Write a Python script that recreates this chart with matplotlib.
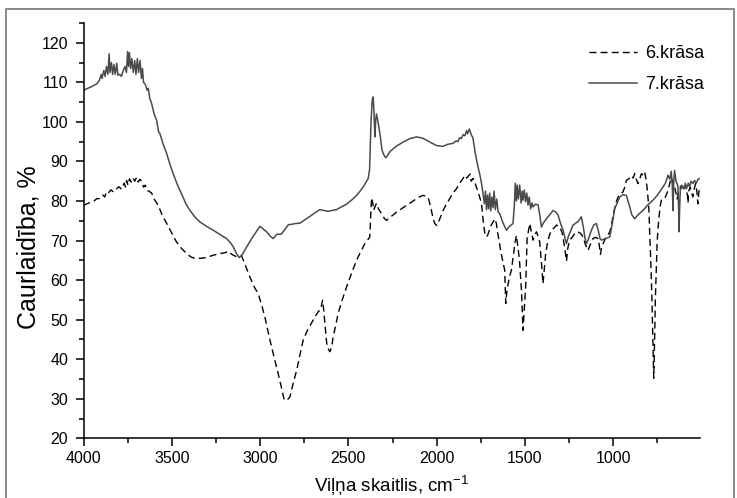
import matplotlib
matplotlib.use("Agg")
import matplotlib.pyplot as plt
from matplotlib.lines import Line2D
from matplotlib.ticker import MultipleLocator

plt.rcParams["font.family"] = ["Liberation Sans", "DejaVu Sans"]

# Wavenumber (cm-1) and transmittance (%) for sample 6
wn_6 = [4000, 3960, 3940, 3925, 3907, 3890, 3880, 3870, 3860, 3845, 3831, 3815, 3800, 3785,
        3770, 3762, 3756, 3748, 3740, 3730, 3720, 3710, 3699, 3690, 3680, 3671, 3660, 3650,
        3642, 3630, 3614, 3600, 3577, 3555, 3529, 3500, 3473, 3445, 3416, 3390, 3369, 3340,
        3303, 3265, 3227, 3200, 3180, 3160, 3133, 3105, 3090, 3076, 3058, 3030, 3011, 2990,
        2973, 2955, 2935, 2915, 2898, 2880, 2865, 2850, 2831, 2815, 2793, 2775, 2756, 2730,
        2699, 2685, 2671, 2658, 2646, 2640, 2633, 2625, 2620, 2605, 2595, 2586, 2572, 2558,
        2535, 2510, 2480, 2454, 2430, 2407, 2390, 2379, 2374, 2369, 2362, 2356, 2350, 2341,
        2330, 2312, 2295, 2284, 2260, 2227, 2200, 2171, 2140, 2114, 2090, 2077, 2058, 2048,
        2040, 2030, 2020, 2011, 2000, 1992, 1980, 1964, 1945, 1926, 1908, 1888, 1870, 1851,
        1840, 1830, 1822, 1812, 1805, 1794, 1785, 1775, 1760, 1746, 1737, 1728, 1718, 1710,
        1700, 1690, 1681, 1670, 1662, 1655, 1647, 1640, 1633, 1622, 1615, 1609, 1603, 1596,
        1590, 1577, 1565, 1558, 1549, 1542, 1535, 1530, 1520, 1515, 1511, 1505, 1496, 1488,
        1480, 1473, 1463, 1454, 1444, 1435, 1425, 1417, 1408, 1398, 1390, 1383, 1370, 1360,
        1351, 1335, 1322, 1303, 1290, 1280, 1270, 1265, 1258, 1247, 1230, 1215, 1200, 1185,
        1171, 1158, 1143, 1130, 1115, 1100, 1086, 1080, 1073, 1065, 1049, 1035, 1020, 1010,
        1001, 985, 973, 960, 945, 935, 926, 912, 898, 888, 879, 870, 860, 850,
        841, 830, 822, 815, 809, 803, 798, 794, 790, 785, 781, 776, 771, 766,
        762, 757, 752, 747, 741, 735, 728, 718, 709, 700, 690, 680, 672, 663,
        653, 645, 638, 632, 625, 610, 596, 586, 580, 577, 573, 564, 556, 549,
        542, 534, 527, 521, 516, 511]
tr_6 = [78.9, 79.7, 80.0, 80.6, 80.6, 81.5, 81.0, 82.3, 82.0, 82.8, 82.3, 83.0, 83.6, 83.0,
        84.5, 83.5, 85.2, 84.0, 85.6, 84.8, 85.8, 85.0, 86.0, 84.8, 85.5, 85.0, 83.5, 84.0,
        82.7, 82.5, 82.0, 80.5, 78.9, 76.5, 74.3, 71.8, 69.6, 68.0, 66.7, 65.8, 65.5, 65.5,
        65.7, 66.3, 66.7, 66.9, 67.3, 66.5, 65.9, 66.1, 64.5, 62.9, 60.8, 58.0, 56.6, 53.5,
        50.7, 47.0, 43.1, 39.5, 36.4, 33.0, 30.0, 29.5, 30.5, 33.5, 37.2, 41.0, 44.8, 47.5,
        49.9, 51.0, 52.0, 52.5, 54.9, 52.5, 49.0, 45.0, 43.1, 41.9, 43.0, 45.7, 48.5, 51.6,
        55.0, 58.3, 62.0, 65.0, 67.2, 69.2, 70.2, 70.9, 76.0, 80.8, 79.5, 77.7, 78.5, 79.4,
        78.0, 76.8, 75.5, 75.1, 76.0, 77.2, 78.0, 78.9, 79.8, 80.6, 81.2, 81.4, 81.2, 80.8,
        79.5, 77.6, 75.5, 74.3, 73.8, 74.4, 75.8, 77.6, 79.2, 80.6, 82.0, 83.1, 84.5, 85.7,
        86.5, 85.8, 86.2, 86.8, 85.0, 85.7, 84.8, 83.5, 81.5, 79.3, 75.1, 72.0, 70.9, 71.5,
        72.9, 74.0, 74.7, 75.5, 74.3, 72.0, 70.1, 68.0, 66.3, 64.0, 62.5, 54.1, 57.0, 58.8,
        60.5, 62.5, 66.5, 69.2, 71.3, 69.0, 66.5, 64.2, 57.4, 52.0, 47.3, 52.0, 58.5, 70.5,
        72.5, 74.3, 72.0, 70.1, 71.5, 72.2, 71.0, 69.7, 65.0, 59.1, 63.0, 66.7, 70.1, 71.5,
        72.6, 73.2, 73.9, 73.5, 72.0, 69.5, 66.5, 64.8, 68.0, 70.1, 71.0, 72.0, 72.2, 71.8,
        70.9, 69.0, 67.5, 69.0, 70.5, 70.8, 70.5, 69.0, 66.5, 68.5, 70.1, 71.0, 72.2, 74.0,
        76.4, 79.5, 81.0, 81.8, 82.3, 83.5, 85.2, 85.6, 86.4, 85.8, 86.9, 85.5, 84.4, 85.6,
        86.9, 86.5, 87.3, 85.5, 83.5, 80.5, 77.6, 72.0, 67.5, 61.0, 54.9, 45.0, 35.2, 45.0,
        54.9, 62.5, 69.2, 73.0, 76.0, 78.5, 80.2, 80.5, 80.6, 81.5, 82.7, 84.5, 86.1, 84.5,
        83.5, 82.0, 80.5, 82.5, 82.7, 83.5, 83.5, 82.5, 81.5, 79.5, 82.5, 83.5, 82.0, 81.0,
        83.0, 84.4, 82.5, 79.3, 82.0, 83.5]

# Wavenumber (cm-1) and transmittance (%) for sample 7
wn_7 = [4000, 3960, 3925, 3910, 3900, 3895, 3885, 3878, 3870, 3862, 3855, 3850, 3842, 3835,
        3828, 3820, 3812, 3805, 3795, 3785, 3775, 3765, 3757, 3750, 3745, 3740, 3733, 3726,
        3718, 3710, 3703, 3695, 3688, 3680, 3672, 3666, 3660, 3650, 3640, 3633, 3625, 3614,
        3600, 3586, 3575, 3567, 3550, 3529, 3510, 3492, 3470, 3454, 3420, 3397, 3370, 3341,
        3300, 3265, 3230, 3190, 3165, 3152, 3135, 3118, 3100, 3076, 3040, 3001, 2985, 2963,
        2940, 2926, 2905, 2880, 2860, 2840, 2822, 2800, 2775, 2745, 2718, 2690, 2662, 2640,
        2615, 2590, 2568, 2540, 2510, 2480, 2454, 2430, 2417, 2400, 2388, 2380, 2372, 2365,
        2360, 2355, 2350, 2345, 2341, 2332, 2320, 2310, 2303, 2290, 2284, 2265, 2230, 2190,
        2150, 2114, 2080, 2039, 2000, 1964, 1940, 1907, 1890, 1880, 1870, 1860, 1850, 1840,
        1831, 1825, 1815, 1803, 1795, 1784, 1775, 1766, 1755, 1746, 1738, 1730, 1724, 1718,
        1712, 1706, 1700, 1694, 1688, 1681, 1675, 1668, 1660, 1652, 1643, 1625, 1605, 1590,
        1568, 1560, 1555, 1549, 1544, 1538, 1530, 1522, 1516, 1511, 1504, 1497, 1490, 1483,
        1476, 1468, 1460, 1454, 1440, 1426, 1415, 1407, 1395, 1379, 1360, 1341, 1325, 1313,
        1300, 1284, 1270, 1265, 1255, 1247, 1228, 1200, 1181, 1170, 1160, 1152, 1140, 1124,
        1110, 1096, 1085, 1075, 1067, 1045, 1020, 1005, 992, 978, 964, 945, 926, 910,
        895, 879, 860, 832, 805, 775, 750, 719, 705, 690, 680, 672, 666, 662,
        658, 653, 645, 640, 634, 630, 628, 625, 620, 612, 600, 592, 586, 575,
        568, 560, 549, 540, 530, 520, 509]
tr_7 = [108.0, 108.8, 109.6, 110.5, 112.0, 111.0, 113.0, 111.5, 114.0, 112.0, 117.2, 112.5, 115.0, 112.0,
        114.5, 112.0, 114.8, 111.8, 112.0, 111.5, 113.0, 114.0, 112.5, 117.8, 114.0, 117.5, 113.5, 116.0,
        112.5, 115.5, 112.0, 116.0, 112.5, 115.5, 111.0, 113.5, 110.0, 109.5, 108.0, 108.5, 106.0, 104.6,
        102.0, 100.4, 97.5, 97.0, 94.5, 92.0, 89.2, 86.9, 84.3, 82.7, 79.3, 77.6, 76.0, 74.7,
        73.5, 72.6, 71.6, 70.5, 69.3, 68.4, 66.8, 65.7, 66.5, 68.4, 71.0, 73.6, 73.0, 72.2,
        71.0, 70.5, 71.6, 71.6, 72.8, 74.0, 74.1, 74.3, 74.4, 75.3, 76.1, 77.0, 77.8, 77.6,
        77.4, 77.6, 77.8, 78.5, 79.2, 80.3, 81.4, 82.7, 83.5, 84.8, 85.7, 88.0, 100.0, 105.5,
        106.3, 102.5, 96.2, 100.5, 102.0, 100.0, 96.5, 93.0, 92.0, 91.0, 91.1, 92.5, 93.8, 94.9,
        95.8, 96.2, 95.9, 94.9, 94.0, 93.8, 94.3, 94.6, 95.2, 95.0, 96.0, 95.8, 96.8, 96.5,
        97.8, 97.0, 98.2, 96.6, 96.0, 92.8, 90.5, 88.6, 86.5, 84.4, 82.0, 79.3, 82.5, 77.8,
        81.5, 78.0, 82.0, 77.5, 81.0, 78.3, 82.5, 77.8, 80.5, 77.2, 76.8, 74.5, 72.6, 73.5,
        74.3, 79.0, 84.5, 80.0, 84.0, 80.5, 84.0, 79.5, 82.5, 80.2, 82.8, 79.8, 82.0, 79.0,
        81.0, 78.0, 79.5, 78.5, 79.2, 79.0, 76.0, 73.4, 74.5, 75.5, 76.5, 77.6, 77.2, 76.5,
        74.5, 72.6, 70.0, 69.2, 71.0, 71.8, 73.9, 74.8, 76.0, 73.5, 70.5, 69.2, 70.5, 72.6,
        74.0, 74.3, 72.5, 70.5, 70.1, 70.5, 70.9, 74.5, 78.1, 79.5, 81.0, 81.6, 81.4, 79.0,
        76.5, 75.5, 76.5, 77.6, 79.0, 80.2, 81.5, 83.5, 84.5, 86.5, 85.5, 87.5, 84.0, 77.6,
        84.5, 87.7, 85.0, 84.5, 83.7, 78.0, 72.2, 77.0, 83.7, 84.0, 83.0, 84.5, 83.1, 84.5,
        83.5, 85.0, 84.4, 85.2, 84.5, 85.5, 85.7]

fig, ax = plt.subplots(figsize=(7.37, 4.98), dpi=100)
fig.subplots_adjust(left=0.1133, right=0.9498, bottom=0.1199, top=0.9538)

# Plot both spectra
ax.plot(wn_6, tr_6, color="black", linewidth=1.0, dashes=(5, 3), label="6.krāsa")
ax.plot(wn_7, tr_7, color="#4a4a4a", linewidth=1.1, label="7.krāsa")

# Axes limits, reversed wavenumber scale
ax.set_xlim(4000, 509)
ax.set_ylim(20, 125)
ax.xaxis.set_major_locator(MultipleLocator(500))
ax.xaxis.set_minor_locator(MultipleLocator(250))
ax.yaxis.set_major_locator(MultipleLocator(10))
ax.yaxis.set_minor_locator(MultipleLocator(5))
ax.set_yticks(range(20, 121, 10))

for side in ["top", "right"]:
    ax.spines[side].set_visible(False)
for side in ["left", "bottom"]:
    ax.spines[side].set_linewidth(1.1)
ax.tick_params(which="major", direction="out", length=6, width=1.1, labelsize=11.5)
ax.tick_params(which="minor", direction="out", length=3.5, width=1.1)
ax.tick_params(axis="x", which="major", pad=3)
ax.tick_params(axis="y", which="major", pad=5)

ax.set_xlabel("Viļņa skaitlis, cm$^{\\mathregular{-1}}$", fontsize=13.5, labelpad=5)
ax.set_ylabel("Caurlaidība, %", fontsize=18, labelpad=1)
ax.yaxis.label.set_y(0.46)

ax.legend(loc="upper left", bbox_to_anchor=(0.799, 0.91), bbox_transform=fig.transFigure,
          frameon=False, fontsize=13, handlelength=2.65, handletextpad=0.48,
          labelspacing=0.8, borderpad=0, borderaxespad=0)

# Thin grey frame around the figure
frame_x = [5.5 / 737, 5.5 / 737, 734 / 737, 734 / 737]
frame_y = [0, 1 - 9 / 498, 1 - 9 / 498, 0]
fig.add_artist(Line2D(frame_x, frame_y, transform=fig.transFigure, color="#808080", linewidth=1.3))

fig.savefig("out.png", dpi=100)
